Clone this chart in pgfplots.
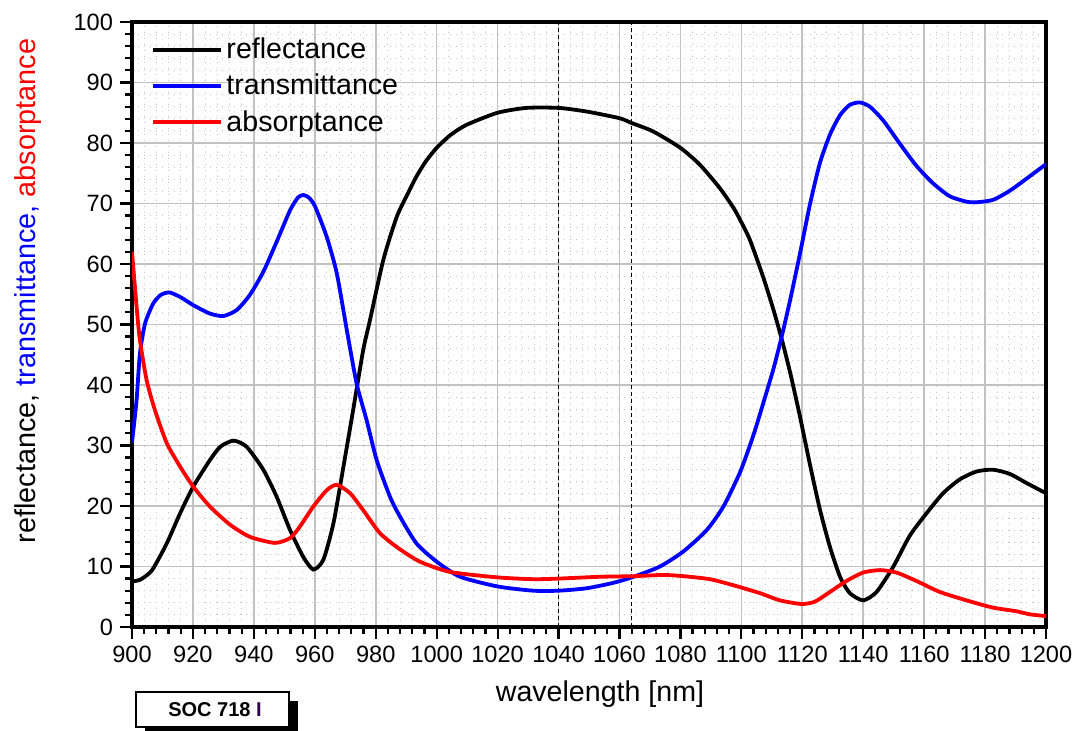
\documentclass[border=0pt]{standalone}
\usepackage{fontspec}
\setmainfont{Liberation Sans}
\usepackage{pgfplots}
\pgfplotsset{compat=1.18}
\definecolor{socI}{RGB}{50,0,80}
\begin{document}
\begin{tikzpicture}
\path[use as bounding box] (-66pt,-52pt) rectangle (472.5pt,313.5pt);
\begin{axis}[
  at={(0pt,0pt)}, anchor=south west,
  scale only axis, width=457pt, height=302.5pt,
  xmin=900, xmax=1200, ymin=0, ymax=100,
  xtick={900,920,...,1200}, ytick={0,10,...,100},
  minor x tick num=4, minor y tick num=4,
  grid=both,
  major grid style={draw=black!24, line width=0.8pt},
  minor grid style={draw=black!22, line width=0.5pt, dash pattern=on 0.5pt off 2.5pt},
  axis line style={line width=1.9pt},
  tick align=outside, xtick pos=left, ytick pos=left,
  major tick length=6pt, minor tick length=3.5pt,
  tick style={black, line width=1.1pt},
  tick label style={font=\fontsize{11.8}{13}\selectfont},
  /pgf/number format/assume math mode=true,
  /pgf/number format/set thousands separator={},
  xlabel={wavelength [nm]},
  xlabel style={font=\fontsize{14.3}{16}\selectfont, at={(axis description cs:0.5,0)}, anchor=base, yshift=-37.5pt, xshift=5.5pt},
  legend style={draw=none, fill=none, at={(axis description cs:0.02,0.981)}, anchor=north west,
     font=\fontsize{14.3}{16}\selectfont, row sep=2.3pt, inner sep=0pt},
  legend cell align=left,
  legend image code/.code={\draw[#1] (0pt,0pt) -- (34pt,0pt);},
]
\draw[black, line width=0.6pt, dash pattern=on 2pt off 1.5pt] (axis cs:1040,0) -- (axis cs:1040,100);
\draw[black, line width=0.6pt, dash pattern=on 2pt off 1.5pt] (axis cs:1064,0) -- (axis cs:1064,100);
\addplot[black, line width=1.9pt, smooth, tension=0.4] coordinates {
(900,7.5)(902.6,7.8)(905,8.6)(907,9.7)(911.4,13.8)(915.8,18.8)(920.1,23.2)(925.6,27.6)
(929,29.8)(933.3,30.8)(937.6,29.8)(943.1,26)(947.5,21.5)(951.9,16)(956.2,11.6)(959.5,9.5)
(962.8,11.1)(966.1,17.1)(969.4,26.5)(972.6,35.9)(975.9,45.8)(978.1,50.7)(982.5,60.7)
(986.9,67.8)(990.7,71.8)(993.4,74.5)(996.5,77.0)(1000,79.2)(1004.5,81.3)(1009.8,83.0)(1020,85.0)(1029.5,85.8)
(1040,85.8)(1049.2,85.2)(1060,84.1)(1064,83.3)(1071.1,81.9)(1080,79.2)(1086.4,76.4)
(1093,72.5)(1097.4,69.3)(1099.6,67.3)(1102.8,64)(1107.2,57.8)(1110.5,52.5)(1113.2,47.7)
(1116,42.1)(1119.2,34.9)(1122.5,26.9)(1125.8,19.4)(1129.1,13.2)(1132.4,8.3)(1135.6,5.6)
(1140,4.4)(1144.4,5.8)(1149.8,9.9)(1155.3,15.1)(1160.8,18.8)(1166.2,22.1)(1171.7,24.4)
(1177.2,25.7)(1182.6,26.0)(1188.1,25.3)(1193.6,23.8)(1200,22.1)
};
\addlegendentry{reflectance}
\addplot[blue, line width=1.9pt, smooth, tension=0.4] coordinates {
(900,30.5)(901.5,37.5)(902.6,45.2)(904.3,50.2)(907,53.5)(909.5,54.9)(912.3,55.3)(916,54.5)
(920.1,53.2)(925.6,51.8)(930,51.4)(934.4,52.4)(938.7,54.9)(943.1,58.7)(947.5,63.7)
(951.9,68.9)(954.5,71)(956.2,71.4)(958,71)(960.1,69.5)(963.9,64.5)(967.2,58.5)(970.5,49.1)
(973.7,40.3)(977,34.2)(980.3,27.6)(984.7,21.5)(988,18.2)(993.4,13.8)(1000,10.8)(1007.7,8.3)
(1020,6.7)(1031.7,6.0)(1040,6.0)(1049.2,6.4)(1058,7.3)(1064.6,8.3)(1073.3,10.0)(1081,12.5)
(1088.6,16.0)(1094.1,19.9)(1099.6,25.6)(1103.9,31.6)(1107.2,37.0)(1110.5,42.6)(1113.2,47.9)
(1116,54.0)(1119.2,61.6)(1122.5,69.8)(1125.8,76.7)(1129.1,81.4)(1132.4,84.6)(1135.6,86.3)
(1138.9,86.7)(1142.2,86.0)(1146.6,83.7)(1152,79.9)(1157.5,76.2)(1163,73.3)(1168.4,71.2)
(1173.9,70.3)(1177.2,70.2)(1182.6,70.6)(1188.1,72.1)(1193.6,74.1)(1200,76.5)
};
\addlegendentry{transmittance}
\addplot[red, line width=1.9pt, smooth, tension=0.4] coordinates {
(900,62)(901.5,53)(902.6,47.4)(904.8,40.8)(907.5,35.9)(911.4,30.4)(915.8,26.5)(920.1,23.2)
(925.6,19.9)(932.2,16.9)(938.7,14.9)(946.9,13.9)(951.9,14.7)(955.1,16.6)(959.5,19.9)
(963.9,22.6)(967.2,23.5)(971.6,22.1)(975.9,19.3)(981.4,15.5)(987.5,13.0)(994.5,10.8)
(1004.4,9.1)(1020,8.2)(1031.7,7.9)(1040,8.0)(1053.6,8.3)(1064.6,8.4)(1074.4,8.6)(1081,8.4)
(1089.7,7.9)(1097.4,6.9)(1102.8,6.1)(1106.1,5.6)(1112.7,4.4)(1119.8,3.8)(1124.2,4.2)
(1129.1,5.8)(1134.5,7.6)(1140,9.0)(1145.5,9.4)(1150.9,9.0)(1157.5,7.6)(1165.1,5.8)
(1173.9,4.4)(1182.6,3.2)(1190.3,2.6)(1194.6,2.1)(1200,1.8)
};
\addlegendentry{absorptance}
\end{axis}
\node[rotate=90, anchor=base, font=\fontsize{14.4}{16}\selectfont] at (-48pt,168pt)
  {\textcolor{black}{reflectance,} \textcolor{blue}{transmittance,} \textcolor{red}{absorptance}};
\fill[black] (6.5pt,-37pt) rectangle (83pt,-54.5pt);
\draw[black, line width=0.75pt, fill=white] (2pt,-32.5pt) rectangle (78.5pt,-50pt);
\node[font=\fontsize{10}{12}\bfseries] at (41.5pt,-41.25pt) {SOC 718 \textcolor{socI}{I}};
\end{tikzpicture}
\end{document}
